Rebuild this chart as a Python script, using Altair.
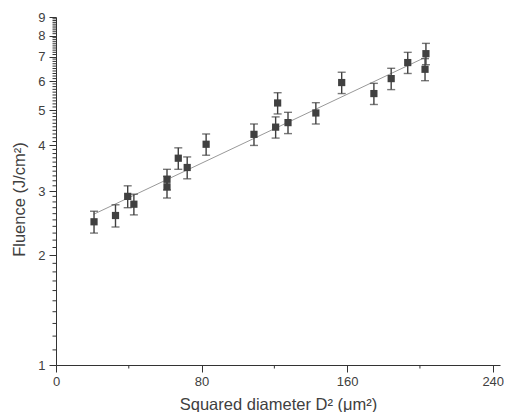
import altair as alt
import pandas as pd

# Data
d2 = [20.9, 32.7, 39.4, 42.8, 61.0, 61.0, 67.2, 72.1, 82.5, 108.8,
      120.7, 121.8, 127.5, 142.8, 157.0, 174.7, 184.2, 193.3, 203.3, 202.8]
fluence = [2.47, 2.57, 2.90, 2.76, 3.23, 3.08, 3.69, 3.48, 4.03, 4.29,
           4.49, 5.23, 4.62, 4.91, 5.95, 5.55, 6.10, 6.75, 7.14, 6.47]
err = [0.17, 0.18, 0.20, 0.18, 0.21, 0.21, 0.25, 0.24, 0.27, 0.29,
       0.30, 0.35, 0.31, 0.33, 0.40, 0.37, 0.41, 0.45, 0.48, 0.45]
fit_d2 = [20.7, 204.6]
fit_f = [2.59, 7.04]

x_ticks = [0, 80, 160, 240]
x_minor = [40, 120, 200]
y_ticks = [1, 2, 3, 4, 5, 6, 7, 8, 9]
y_minor = [round(1 + 0.1 * i, 1) for i in range(81) if i % 10 != 0]

df = pd.DataFrame({
    "d2": d2,
    "f": fluence,
    "lo": [f - e for f, e in zip(fluence, err)],
    "hi": [f + e for f, e in zip(fluence, err)],
})
fit_df = pd.DataFrame({"d2": fit_d2, "f": fit_f})
xminor_df = pd.DataFrame({"v": x_minor})
yminor_df = pd.DataFrame({"v": y_minor})

W, H = 444, 348
DARK = "#404040"
FONT = "Liberation Sans"

xs = alt.Scale(domain=[0, 244], nice=False, zero=False)
ys = alt.Scale(type="log", domain=[1, 9], nice=False)

xaxis = alt.Axis(values=x_ticks, title="Squared diameter D² (μm²)", grid=False,
                 tickSize=7, labelPadding=3, format="d",
                 titleBaseline="alphabetic", titleY=44, labelFlush=False)
yaxis = alt.Axis(values=y_ticks, title="Fluence (J/cm²)", grid=False,
                 tickSize=7, labelPadding=4, format="d",
                 titleBaseline="alphabetic", titleX=-32, titleY=182,
                 titleAlign="center", titleAngle=-90)


def X(field):
    return alt.X(field, scale=xs, axis=xaxis)


def Y(field):
    return alt.Y(field, scale=ys, axis=yaxis)


fit = alt.Chart(fit_df).mark_line(color="#999999", strokeWidth=1).encode(
    x=X("d2:Q"), y=Y("f:Q"),
)
stems = alt.Chart(df).mark_rule(color=DARK, strokeWidth=1.4).encode(
    x=X("d2:Q"), y=Y("lo:Q"), y2="hi:Q",
)
cap_hi = alt.Chart(df).mark_tick(color=DARK, orient="horizontal", size=8, thickness=1.4).encode(
    x=X("d2:Q"), y=Y("hi:Q"),
)
cap_lo = alt.Chart(df).mark_tick(color=DARK, orient="horizontal", size=8, thickness=1.4).encode(
    x=X("d2:Q"), y=Y("lo:Q"),
)
points = alt.Chart(df).mark_square(color=DARK, size=52, opacity=1).encode(
    x=X("d2:Q"), y=Y("f:Q"),
)
yminor = alt.Chart(yminor_df).mark_rule(color="#333333", strokeWidth=1).encode(
    y=Y("v:Q"), x=alt.value(0), x2=alt.value(-3.5),
)
xminor = alt.Chart(xminor_df).mark_rule(color="#333333", strokeWidth=1).encode(
    x=X("v:Q"), y=alt.value(H), y2=alt.value(H + 3.5),
)

chart = alt.layer(fit, yminor, xminor, stems, cap_hi, cap_lo, points).properties(
    width=W, height=H,
    autosize=alt.AutoSizeParams(type="none"),
    padding={"left": 48, "top": 9, "right": 4, "bottom": 47},
).configure_view(stroke=None).configure_axis(
    domainColor="#333333", tickColor="#333333", domainWidth=1, tickWidth=1,
    labelColor=DARK, titleColor=DARK, labelFont=FONT, titleFont=FONT,
    labelFontSize=13, titleFontSize=16.5, titleFontWeight="normal",
)

chart.save("out.html", embed_options={"renderer": "svg", "actions": False})
